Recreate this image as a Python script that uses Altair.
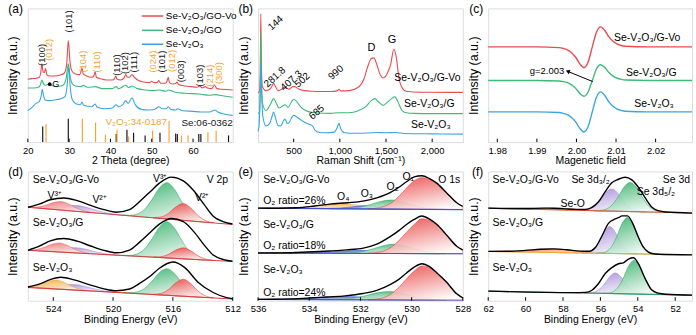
import altair as alt
import pandas as pd

FONT = "Liberation Sans"
RED = "#e94b4f"
GREEN = "#3dba7a"
BLUE = "#3aa6e0"
ORANGE = "#f4a633"
PURPLE = "#a48ad8"
DBLUE = "#4050d6"
BLACK = "#1a1a1a"

# ---------------- (a) XRD ----------------
XRD_GOVO = [(20.0, 47.0), (21.0, 47.5), (22.0, 47.8), (22.8, 48.5), (23.1, 51.5), (23.4, 58.5), (23.7, 52.5),
            (24.0, 52.0), (24.3, 55.0), (24.6, 50.5), (25.2, 49.5), (26.5, 49.5), (27.8, 50.2), (28.8, 51.5),
            (29.4, 58.0), (29.8, 76.0), (30.2, 60.0), (30.7, 53.0), (31.5, 51.0), (32.5, 50.5), (32.8, 52.0),
            (33.1, 55.5), (33.4, 51.0), (34.2, 49.5), (35.5, 48.5), (36.0, 49.5), (36.3, 52.5), (36.6, 48.5),
            (37.5, 47.5), (39.0, 46.5), (40.5, 46.5), (41.0, 47.5), (41.3, 49.5), (41.6, 47.0), (42.5, 46.5),
            (43.3, 48.0), (43.7, 50.5), (44.1, 48.5), (44.6, 48.5), (45.2, 50.5), (45.8, 48.5), (46.8, 46.0),
            (48.0, 45.0), (49.5, 44.5), (50.0, 45.5), (50.5, 44.5), (51.3, 44.5), (51.7, 46.0), (52.2, 44.0),
            (53.3, 44.0), (53.7, 45.5), (54.0, 48.5), (54.3, 44.5), (55.0, 43.5), (55.8, 43.8), (56.1, 45.0),
            (56.5, 43.0), (58.0, 42.0), (59.5, 41.5), (61.0, 41.0), (61.6, 42.0), (62.2, 40.5), (63.0, 41.5),
            (63.5, 40.5), (64.5, 40.0), (65.2, 42.5), (65.8, 40.0), (67.0, 39.5), (69.6, 39.0)]
XRD_GO = [(20.0, 40.5), (21.5, 40.5), (22.7, 41.2), (23.1, 43.5), (23.4, 46.5), (23.8, 43.5), (24.3, 42.5),
          (25.0, 43.5), (25.6, 42.5), (27.0, 41.5), (28.5, 42.5), (29.3, 48.0), (29.8, 58.5), (30.2, 50.0),
          (30.7, 44.0), (31.5, 42.0), (33.0, 41.5), (33.3, 42.5), (34.5, 41.0), (36.3, 41.5), (38.0, 40.0),
          (40.5, 40.0), (41.3, 41.5), (42.0, 40.0), (43.7, 42.5), (44.4, 40.8), (45.3, 42.0), (46.5, 40.0),
          (48.5, 39.0), (50.5, 38.5), (51.7, 39.0), (53.5, 38.0), (54.0, 39.0), (55.5, 37.5), (58.0, 36.5),
          (61.5, 36.0), (64.0, 35.0), (65.3, 35.5), (67.5, 34.5), (69.6, 33.5)]
XRD_V2O3 = [(20.0, 23.5), (21.0, 26.0), (22.0, 29.0), (22.8, 30.5), (23.2, 34.0), (23.5, 39.5), (23.8, 35.0),
            (24.2, 31.5), (25.0, 31.0), (26.5, 31.5), (28.0, 32.5), (29.0, 34.0), (29.5, 42.0), (29.9, 56.0),
            (30.3, 40.0), (30.8, 31.5), (31.8, 28.5), (32.7, 28.0), (33.1, 30.0), (33.5, 27.5), (35.5, 26.5),
            (36.3, 28.5), (36.8, 26.0), (38.5, 25.0), (40.5, 25.5), (41.3, 28.0), (42.0, 26.5), (43.0, 28.0),
            (43.7, 31.0), (44.3, 29.0), (45.2, 33.0), (46.0, 28.0), (47.5, 24.5), (49.5, 24.0), (51.0, 25.0),
            (51.7, 26.5), (52.5, 25.0), (53.5, 25.0), (54.0, 26.5), (54.6, 24.5), (55.8, 24.0), (56.2, 25.0),
            (57.5, 23.5), (60.0, 23.0), (62.0, 22.5), (64.0, 22.5), (65.3, 24.0), (66.0, 22.5), (67.5, 21.0),
            (69.6, 20.0)]
STICK_SE = [(23.6, 11.7), (29.8, 17.4), (41.4, 6.0), (44.0, 9.2), (45.6, 7.0), (48.4, 5.0), (52.0, 7.0),
            (55.8, 6.5), (56.2, 6.0), (61.4, 6.0), (61.9, 6.0), (68.6, 5.0)]
STICK_V2O3 = [(24.4, 13.6), (33.2, 17.4), (36.4, 14.6), (38.8, 5.5), (41.6, 9.2), (44.4, 4.2), (50.2, 8.7),
              (54.2, 15.6), (57.2, 5.0), (58.8, 5.0), (63.6, 7.4), (65.6, 8.7)]
A_LAB_BLACK = [("(100)", 23.4, 57.0), ("(101)", 30.0, 82.0), ("(110)", 41.6, 49.6), ("(102)", 43.6, 50.9),
               ("(111)", 45.8, 52.0), ("(101)", 52.4, 52.0), ("(003)", 57.0, 44.7), ("(103)", 61.8, 41.4)]
A_LAB_ORANGE = [("(012)", 25.2, 60.8), ("(104)", 33.4, 52.0), ("(110)", 36.8, 52.0), ("(024)", 50.2, 52.0),
                ("(012)", 54.8, 52.5), ("(214)", 64.2, 41.4), ("(300)", 66.4, 43.4)]
A_LEGEND = ["Se-V₂O₃/GO-Vo", "Se-V₂O₃/GO", "Se-V₂O₃"]
A_LEGEND_Y = [94.3, 83.6, 73.2]

# ---------------- (b) Raman ----------------
RAMAN_GVO = [(114, 37.0), (130, 38.0), (138, 50.0), (144, 96.0), (150, 60.0), (160, 42.0), (200, 38.5),
             (240, 39.5), (270, 42.5), (282, 44.0), (300, 42.0), (330, 38.5), (370, 39.5), (400, 41.0),
             (420, 40.5), (450, 39.5), (490, 41.5), (510, 41.5), (560, 39.5), (620, 38.5), (700, 38.0),
             (800, 37.8), (900, 37.8), (970, 38.3), (990, 39.5), (1010, 38.3), (1100, 38.5), (1200, 41.0),
             (1260, 47.0), (1300, 56.0), (1340, 62.5), (1370, 63.0), (1400, 58.0), (1440, 50.0), (1470, 48.0),
             (1510, 51.0), (1550, 58.0), (1585, 69.5), (1610, 64.0), (1640, 48.0), (1680, 40.0), (1720, 38.0),
             (1800, 37.5), (2000, 37.3), (2200, 37.2), (2332, 37.2)]
RAMAN_G = [(114, 21.5), (130, 22.0), (138, 40.0), (144, 82.0), (150, 55.0), (160, 30.0), (200, 23.5),
           (250, 28.5), (282, 32.5), (310, 29.5), (340, 25.5), (380, 27.0), (407, 28.0), (440, 26.0),
           (475, 30.0), (500, 32.0), (530, 30.5), (580, 26.0), (650, 23.0), (750, 21.8), (900, 21.5),
           (990, 22.0), (1100, 22.0), (1200, 23.5), (1280, 26.5), (1340, 31.0), (1380, 32.5), (1420, 30.0),
           (1470, 27.5), (1510, 29.5), (1560, 32.5), (1595, 33.8), (1630, 30.0), (1670, 24.0), (1720, 22.0),
           (1800, 21.5), (2000, 21.3), (2332, 21.3)]
RAMAN_V2O3 = [(114, 8.0), (125, 12.0), (135, 30.0), (144, 58.0), (152, 40.0), (165, 20.0), (200, 12.0),
              (240, 14.0), (265, 19.0), (282, 22.5), (300, 19.0), (330, 12.5), (360, 12.0), (390, 16.0),
              (407, 17.2), (430, 14.0), (450, 14.5), (480, 18.5), (502, 20.0), (530, 19.0), (580, 16.5),
              (630, 14.5), (680, 13.0), (700, 12.5), (730, 9.0), (780, 7.2), (850, 7.0), (940, 7.5),
              (970, 10.5), (990, 14.0), (1010, 10.0), (1050, 7.0), (1150, 6.6), (1300, 6.8), (1400, 7.2),
              (1500, 7.0), (1600, 7.2), (1700, 6.5), (2000, 6.2), (2332, 6.0)]
B_PEAK_LABELS = [("144", 304, 89.0), ("281.8", 296, 48.6), ("407.3", 475, 46.0), ("502", 593, 46.3),
                 ("990", 957, 52.0), ("685", 750, 22.3)]
B_DG_LABELS = [("D", 1343, 70.0), ("G", 1564, 76.0)]
B_SERIES = [("Se-V₂O₃/G-Vo", 2307, 47.6), ("Se-V₂O₃/G", 2243, 28.4), ("Se-V₂O₃", 2200, 13.0)]

# ---------------- (c) EPR ----------------
EPR_X = [1.9777, 1.990, 1.9956, 1.99665, 1.9977, 1.99875, 1.9998, 2.00085, 2.0019, 2.00295, 2.0040, 2.00505,
         2.0061, 2.00715, 2.0082, 2.00925, 2.0103, 2.01135, 2.0124, 2.018, 2.0292]
EPR_GVO = [71.2, 71.2, 70.7, 70.1, 69.0, 66.9, 63.45, 58.5, 55.7, 59.9, 71.2, 82.15, 86.2, 83.5, 78.7, 75.4,
           73.3, 72.25, 71.65, 71.2, 71.2]
EPR_G = [46.1, 46.1, 45.75, 45.27, 44.45, 42.8, 40.2, 36.4, 34.3, 37.5, 46.1, 54.7, 57.9, 55.8, 52.0, 49.4,
         47.75, 46.9, 46.45, 46.1, 46.1]
EPR_V2O3 = [22.6, 22.6, 22.15, 21.55, 20.5, 18.4, 15.1, 10.3, 7.6, 11.65, 22.6, 33.55, 37.6, 34.9, 30.1, 26.8,
            24.7, 23.65, 23.05, 22.6, 22.6]
C_SERIES = [("Se-V₂O₃/G-Vo", 2.0095, 77.9), ("Se-V₂O₃/G", 2.0125, 51.7), ("Se-V₂O₃", 2.0146, 28.8)]
C_ARROW = [(2.0041, 45.3, 1.9978, 52.9)]

# ---------------- (d) V 2p ----------------
D_BG1 = [(525.7, 72.3), (512.0, 59.0)]
D_BG2 = [(525.7, 39.0), (512.0, 30.3)]
D_BG3 = [(525.7, 10.3), (512.0, 1.3)]
D1_A = [(525.5, 0.2), (525.0, 0.95), (524.5, 2.76), (524.0, 5.25), (523.5, 6.5), (523.0, 5.25), (522.5, 2.76),
        (522.0, 0.95), (521.5, 0.2)]
D1_B = [(524.9, 0.22), (524.4, 0.66), (523.9, 1.52), (523.4, 2.78), (522.9, 3.99), (522.4, 4.5), (521.9, 3.99),
        (521.4, 2.78), (520.9, 1.52), (520.4, 0.66), (519.9, 0.22), (519.4, 0.06)]
D1_C = [(519.4, 0.06), (518.9, 0.36), (518.4, 1.75), (517.9, 5.88), (517.4, 14.0), (516.9, 23.5), (516.4, 28.0),
        (515.9, 23.5), (515.4, 14.0), (514.9, 5.88), (514.4, 1.75), (513.9, 0.36)]
D1_D = [(517.3, 0.17), (516.8, 1.13), (516.3, 4.39), (515.8, 9.92), (515.3, 13.0), (514.8, 9.92), (514.3, 4.39),
        (513.8, 1.13), (513.3, 0.17)]
D1_ENV = [(525.7, 0.0), (524.9, 3.4), (524.2, 7.3), (523.3, 9.5), (522.4, 8.3), (521.5, 5.5), (520.6, 3.1),
          (519.8, 1.9), (518.9, 4.8), (518.2, 11.9), (517.5, 20.2), (516.9, 27.2), (516.1, 32.6), (515.3, 30.5),
          (514.6, 23.5), (513.9, 13.5), (513.3, 5.1), (512.6, 1.4), (512.0, 0.3)]
D2_A = [(525.6, 0.23), (525.1, 1.02), (524.6, 2.98), (524.1, 5.65), (523.6, 7.0), (523.1, 5.65), (522.6, 2.98),
        (522.1, 1.02), (521.6, 0.23)]
D2_B = [(525.0, 0.2), (524.5, 0.58), (524.0, 1.35), (523.5, 2.47), (523.0, 3.55), (522.5, 4.0), (522.0, 3.55),
        (521.5, 2.47), (521.0, 1.35), (520.5, 0.58), (520.0, 0.2), (519.5, 0.05)]
D2_C = [(519.4, 0.06), (518.9, 0.36), (518.4, 1.75), (517.9, 5.88), (517.4, 14.0), (516.9, 23.5), (516.4, 28.0),
        (515.9, 23.5), (515.4, 14.0), (514.9, 5.88), (514.4, 1.75), (513.9, 0.36)]
D2_D = [(517.3, 0.11), (516.8, 0.74), (516.3, 2.87), (515.8, 6.49), (515.3, 8.5), (514.8, 6.49), (514.3, 2.87),
        (513.8, 0.74), (513.3, 0.11)]
D2_ENV = [(525.7, 0.0), (524.9, 3.9), (524.2, 8.3), (523.3, 10.7), (522.4, 9.2), (521.5, 6.0), (520.6, 3.2),
          (519.8, 1.8), (518.9, 4.5), (518.2, 11.3), (517.5, 19.2), (516.9, 25.8), (516.1, 30.7), (515.3, 28.8),
          (514.6, 21.5), (513.9, 11.5), (513.3, 4.2), (512.6, 1.1), (512.0, 0.2)]
D3_A = [(525.7, 0.31), (525.3, 1.0), (524.8, 2.93), (524.3, 5.57), (523.8, 6.9), (523.3, 5.57), (522.8, 2.93),
        (522.3, 1.0), (521.8, 0.23)]
D3_B = [(525.1, 0.21), (524.6, 0.61), (524.1, 1.42), (523.6, 2.6), (523.1, 3.73), (522.6, 4.2), (522.1, 3.73),
        (521.6, 2.6), (521.1, 1.42), (520.6, 0.61), (520.1, 0.21), (519.6, 0.05)]
D3_C = [(519.4, 0.04), (518.9, 0.27), (518.4, 1.28), (517.9, 4.3), (517.4, 10.25), (516.9, 17.2), (516.4, 20.5),
        (515.9, 17.2), (515.4, 10.25), (514.9, 4.3), (514.4, 1.28), (513.9, 0.27)]
D3_D = [(517.3, 0.17), (516.8, 1.15), (516.3, 4.46), (515.8, 10.07), (515.3, 13.2), (514.8, 10.07), (514.3, 4.46),
        (513.8, 1.15), (513.3, 0.17)]
D3_ENV = [(525.7, 0.3), (524.9, 3.3), (524.2, 7.0), (523.5, 9.3), (522.6, 7.8), (521.6, 4.8), (520.6, 2.2),
          (519.8, 1.3), (518.9, 3.2), (518.2, 8.2), (517.5, 14.2), (516.9, 20.6), (516.0, 26.0), (515.2, 22.2),
          (514.3, 11.3), (513.3, 4.2), (512.4, 0.8), (512.0, 0.2)]
D_TEXT = [("Se-V₂O₃/G-Vo", 525.37, 93.6, "left"), ("V 2p", 512.3, 93.6, "right"),
          ("Se-V₂O₃/G", 525.37, 60.3, "left"), ("Se-V₂O₃", 525.37, 25.6, "left"),
          ("V³⁺", 523.9, 81.3, "center"), ("V²⁺", 520.9, 78.2, "center"),
          ("V³⁺", 516.85, 94.4, "center"), ("V²⁺", 514.04, 79.5, "center")]

# ---------------- (e) O 1s ----------------
E_BG1 = [(536.0, 71.6), (528.0, 70.5)]
E_BG2 = [(536.0, 36.9), (528.0, 36.3)]
E_BG3 = [(536.0, 1.0), (528.0, 0.3)]
E1_O1 = [(531.7, 0.1), (531.4, 0.55), (531.1, 1.9), (530.8, 4.7), (530.5, 9.9), (530.2, 16.3), (529.9, 22.0),
         (529.6, 24.5), (529.3, 23.3), (529.02, 20.2), (528.63, 12.8), (528.24, 5.3), (528.0, 2.4)]
E1_O2 = [(533.2, 0.01), (532.8, 0.09), (532.4, 0.44), (532.0, 1.47), (531.6, 3.5), (531.2, 5.89), (530.8, 7.0),
         (530.4, 5.89), (530.0, 3.5), (529.6, 1.47), (529.2, 0.44), (528.8, 0.09)]
E1_O3 = [(533.58, 0.03), (533.2, 0.15), (532.83, 0.5), (532.45, 1.2), (532.08, 2.02), (531.7, 2.4), (531.33, 2.02),
         (530.95, 1.2), (530.58, 0.5), (530.2, 0.15), (529.83, 0.03)]
E1_O4 = [(535.8, 0.01), (535.3, 0.05), (534.8, 0.24), (534.3, 0.8), (533.8, 1.9), (533.3, 3.2), (532.8, 3.8),
         (532.3, 3.2), (531.8, 1.9), (531.3, 0.8), (530.8, 0.24), (530.3, 0.05)]
E1_ENV = [(536.0, 0.0), (535.2, 0.06), (534.5, 0.5), (533.8, 1.95), (533.2, 3.55), (532.5, 4.7), (531.9, 6.0),
          (531.36, 8.6), (530.84, 12.7), (530.5, 16.9), (530.2, 21.2), (529.9, 25.0), (529.6, 26.0), (529.3, 23.8),
          (529.02, 20.3), (528.63, 12.8), (528.24, 5.3), (528.0, 2.4)]
E2_O1 = [(531.7, 0.1), (531.4, 0.6), (531.1, 1.9), (530.8, 4.8), (530.5, 10.0), (530.2, 16.5), (529.9, 22.5),
         (529.6, 27.0), (529.3, 25.8), (529.02, 22.3), (528.63, 14.3), (528.24, 5.8), (528.0, 2.9)]
E2_O2 = [(533.1, 0.01), (532.7, 0.09), (532.3, 0.45), (531.9, 1.51), (531.5, 3.6), (531.1, 6.06), (530.7, 7.2),
         (530.3, 6.06), (529.9, 3.6), (529.5, 1.51), (529.1, 0.45), (528.7, 0.09)]
E2_O3 = [(535.5, 0.0), (534.9, 0.03), (534.3, 0.14), (533.7, 0.46), (533.1, 1.1), (532.5, 1.85), (531.9, 2.2),
         (531.3, 1.85), (530.7, 1.1), (530.1, 0.46), (529.5, 0.14), (528.9, 0.03)]
E2_O4 = [(535.7, 0.05), (535.1, 0.17), (534.5, 0.4), (533.9, 0.67), (533.3, 0.8), (532.7, 0.67), (532.1, 0.4),
         (531.5, 0.17), (530.9, 0.05)]
E2_ENV = [(536.0, 0.02), (535.1, 0.2), (534.5, 0.55), (533.84, 1.1), (533.19, 1.8), (532.54, 2.7), (531.89, 4.1),
          (531.36, 7.2), (530.84, 13.0), (530.5, 17.7), (530.2, 22.5), (529.9, 26.4), (529.6, 29.1), (529.3, 26.7),
          (529.02, 22.7), (528.63, 14.4), (528.24, 5.8), (528.0, 2.9)]
E3_O1 = [(531.7, 0.1), (531.4, 0.6), (531.1, 1.8), (530.8, 4.7), (530.5, 9.8), (530.2, 16.4), (529.9, 22.5),
         (529.6, 26.5), (529.3, 25.3), (529.02, 21.0), (528.63, 13.8), (528.24, 5.0), (528.0, 1.8)]
E3_O2 = [(533.6, 0.01), (533.15, 0.08), (532.7, 0.41), (532.25, 1.37), (531.8, 3.25), (531.35, 5.47), (530.9, 6.5),
         (530.45, 5.47), (530.0, 3.25), (529.55, 1.37), (529.1, 0.41), (528.65, 0.08)]
E3_O3 = [(535.4, 0.16), (534.7, 0.52), (534.0, 1.25), (533.3, 2.1), (532.6, 2.5), (531.9, 2.1), (531.2, 1.25),
         (530.5, 0.52), (529.8, 0.16), (529.1, 0.04)]
E3_ENV = [(536.0, 0.04), (535.4, 0.16), (534.7, 0.52), (534.0, 1.25), (533.3, 2.15), (532.6, 3.05), (531.9, 4.9),
          (531.36, 7.45), (530.84, 11.9), (530.5, 16.0), (530.2, 21.0), (529.9, 25.5), (529.6, 28.1), (529.3, 25.9),
          (529.02, 21.3), (528.63, 13.9), (528.24, 5.0), (528.0, 1.8)]
E_TEXT = [("Se-V₂O₃/G-Vo", 535.8, 93.0, "left"), ("O₂ ratio=26%", 535.8, 77.3, "left"),
          ("Se-V₂O₃/G", 535.8, 58.7, "left"), ("O₂ ratio=18%", 535.8, 42.6, "left"),
          ("Se-V₂O₃", 535.8, 24.0, "left"), ("O₂ ratio=24%", 535.8, 5.9, "left"),
          ("O₄", 532.67, 80.0, "center"), ("O₃", 531.75, 82.7, "center"), ("O₂", 530.74, 87.9, "center"),
          ("O₁", 530.13, 95.6, "center"), ("O 1s", 528.1, 93.0, "right")]

# ---------------- (f) Se 3d ----------------
F_BG1 = [(62.0, 71.6), (51.1, 67.8)]
F_BG2 = [(62.0, 38.1), (51.1, 35.5)]
F_BG3 = [(62.0, 7.4), (51.1, 4.3)]
F1_P = [(57.2, 0.03), (56.9, 0.22), (56.6, 1.08), (56.3, 3.61), (56.0, 8.6), (55.7, 14.47), (55.4, 17.2),
        (55.1, 14.47), (54.8, 8.6), (54.5, 3.61), (54.2, 1.08), (53.9, 0.22), (53.6, 0.03)]
F1_G = [(56.35, 0.04), (56.03, 0.29), (55.7, 1.41), (55.38, 4.73), (55.05, 11.25), (54.73, 18.92), (54.4, 22.5),
        (54.08, 18.92), (53.75, 11.25), (53.43, 4.73), (53.1, 1.41), (52.78, 0.29), (52.45, 0.04)]
F1_O = [(61.1, 0.08), (60.45, 0.25), (59.8, 0.6), (59.15, 1.0), (58.5, 1.2), (57.85, 1.0), (57.2, 0.6),
        (56.55, 0.25), (55.9, 0.08)]
F1_ENV = [(62.0, 0.0), (61.0, 0.1), (60.0, 0.4), (59.0, 1.05), (58.5, 1.2), (58.0, 1.05), (57.3, 0.7), (56.8, 0.8),
          (56.45, 2.5), (56.1, 7.0), (55.74, 15.0), (55.39, 22.0), (55.03, 24.8), (54.68, 26.5), (54.32, 24.6),
          (53.97, 19.0), (53.61, 11.0), (53.26, 4.0), (52.9, 1.2), (52.5, 0.3), (51.1, 0.0)]
F2_P = [(57.0, 0.04), (56.75, 0.27), (56.5, 1.3), (56.25, 4.37), (56.0, 10.4), (55.75, 17.49), (55.5, 20.8),
        (55.25, 17.49), (55.0, 10.4), (54.75, 4.37), (54.5, 1.3), (54.25, 0.27), (54.0, 0.04)]
F2_G = [(56.2, 0.06), (55.93, 0.36), (55.65, 1.75), (55.38, 5.88), (55.1, 14.0), (54.83, 23.55), (54.55, 28.0),
        (54.28, 23.55), (54.0, 14.0), (53.73, 5.88), (53.45, 1.75), (53.18, 0.36), (52.9, 0.06)]
F2_O = [(62.0, 0.04), (61.3, 0.18), (60.6, 0.59), (59.9, 1.4), (59.2, 2.35), (58.5, 2.8), (57.8, 2.35),
        (57.1, 1.4), (56.4, 0.59), (55.7, 0.18), (55.0, 0.04)]
F2_ENV = [(62.0, 0.04), (61.0, 0.35), (60.0, 1.3), (59.2, 2.35), (58.5, 2.8), (57.8, 2.35), (57.1, 1.4),
          (56.6, 1.5), (56.27, 4.4), (55.92, 13.4), (55.57, 23.3), (55.21, 26.8), (55.0, 28.0), (54.85, 29.2),
          (54.55, 29.3), (54.28, 23.8), (54.0, 14.0), (53.73, 5.9), (53.45, 1.75), (53.18, 0.36), (52.9, 0.06),
          (51.1, 0.0)]
F3_P = [(56.85, 0.03), (56.58, 0.21), (56.3, 1.0), (56.03, 3.36), (55.75, 8.0), (55.48, 13.46), (55.2, 16.0),
        (54.93, 13.46), (54.65, 8.0), (54.38, 3.36), (54.1, 1.0), (53.83, 0.21), (53.55, 0.03)]
F3_G = [(55.85, 0.05), (55.58, 0.34), (55.3, 1.63), (55.03, 5.46), (54.75, 13.0), (54.48, 21.87), (54.2, 26.0),
        (53.93, 21.87), (53.65, 13.0), (53.38, 5.46), (53.1, 1.63), (52.83, 0.34), (52.55, 0.05)]
F3_ENV = [(62.0, 0.0), (57.5, 0.1), (56.8, 0.5), (56.45, 2.3), (56.1, 7.6), (55.74, 15.4), (55.39, 20.1),
          (55.03, 23.2), (54.77, 24.0), (54.5, 26.9), (54.23, 28.0), (53.97, 23.5), (53.61, 12.3), (53.26, 3.5),
          (52.9, 1.0), (52.5, 0.3), (51.1, 0.0)]
F_TEXT = [("Se-V₂O₃/G-Vo", 61.77, 93.1, "left"), ("Se 3d₃/₂", 57.55, 93.1, "left"), ("Se 3d", 51.2, 93.1, "right"),
          ("Se  3d₅/₂", 54.06, 84.3, "left"), ("Se-O", 58.13, 74.6, "left"),
          ("Se-V₂O₃/G", 61.77, 60.2, "left"), ("Se-V₂O₃", 61.77, 25.4, "left")]

# ================= helpers =================
LABEL_FS = 9.5
TITLE_FS = 10.5
ANN_FS = 10


def pts(pairs, cols=("x", "y"), **kw):
    d = pd.DataFrame(pairs, columns=list(cols))
    for k, v in kw.items():
        d[k] = v
    return d


def make_xy(xdom, xvals, xtitle, reverse=False, fmt=None):
    xscale = alt.Scale(domain=xdom, reverse=reverse, nice=False, zero=False)
    kw = dict(values=xvals, title=xtitle, ticks=False, domain=False, grid=False, labelFlush=False,
              labelOverlap=False, labelFontSize=LABEL_FS, titleFontSize=TITLE_FS, labelPadding=3,
              titlePadding=1, labelColor="black", titleColor="black", titleFontWeight="normal")
    if fmt:
        kw["format"] = fmt
    xaxis = alt.Axis(**kw)
    yscale = alt.Scale(domain=[0, 100], nice=False, zero=False)
    yaxis = alt.Axis(title="Intensity (a.u.)", labels=False, ticks=False, domain=False, grid=False,
                     titleFontSize=12.5, titlePadding=8, titleFontWeight="normal", titleColor="black")

    def X(f):
        return alt.X(f, type="quantitative", scale=xscale, axis=xaxis)

    def Y(f):
        return alt.Y(f, type="quantitative", scale=yscale, axis=yaxis)

    return X, Y


def ticks_layer(X, xvals, h):
    return alt.Chart(pd.DataFrame({"v": xvals})).mark_rule(color="black", strokeWidth=1).encode(
        x=X("v"), y=alt.value(h), y2=alt.value(h - 3.5))


def panel_label(t):
    return alt.Chart(pd.DataFrame({"t": [t]})).mark_text(
        align="right", baseline="middle", fontSize=12, font=FONT, color="black").encode(
        text="t:N", x=alt.value(-5), y=alt.value(1))


def text_layer(X, Y, rows, size=ANN_FS, color="black", **mk):
    df = pd.DataFrame(rows, columns=["t", "x", "y", "a"])
    layers = []
    for a in ["left", "center", "right"]:
        sub = df[df["a"] == a]
        if len(sub):
            layers.append(alt.Chart(sub).mark_text(align=a, baseline="middle", fontSize=size, font=FONT,
                                                   color=color, **mk).encode(x=X("x"), y=Y("y"), text="t:N"))
    return layers


def bg_at(bg, x):
    (x0, y0), (x1, y1) = bg
    return y0 + (y1 - y0) * (x - x0) / (x1 - x0)


def comp_df(pairs, bg, s):
    d = pd.DataFrame(pairs, columns=["x", "h"])
    d["bot"] = [bg_at(bg, v) for v in d["x"]]
    d["top"] = d["bot"] + d["h"]
    d["s"] = s
    return d


def grad(c):
    return alt.Gradient(gradient="linear", stops=[alt.GradientStop(color=c, offset=0),
                                                  alt.GradientStop(color="#ffffff", offset=1)],
                        x1=0.2, x2=0.8, y1=0, y2=1)


def area_layer(X, Y, dfs, color):
    df = pd.concat(dfs, ignore_index=True)
    return alt.Chart(df).mark_area(interpolate="monotone", fill=grad(color), fillOpacity=0.9, stroke=color,
                                   strokeWidth=0.6, clip=True).encode(
        x=X("x"), y=Y("top"), y2=alt.Y2("bot"), detail="s:N")


def env_layer(X, Y, envs_bgs):
    dfs = []
    for i, (env, bg) in enumerate(envs_bgs):
        d = pd.DataFrame(env, columns=["x", "h"])
        d["y"] = [bg_at(bg, v) + hh for v, hh in zip(d["x"], d["h"])]
        d["s"] = "s%d" % i
        dfs.append(d)
    df = pd.concat(dfs, ignore_index=True)
    return alt.Chart(df).mark_line(interpolate="monotone", color="black", strokeWidth=1.4, clip=True).encode(
        x=X("x"), y=Y("y"), detail="s:N")


def bg_layer(X, Y, bgs, colors):
    dfs = []
    for i, bg in enumerate(bgs):
        d = pd.DataFrame(bg, columns=["x", "y"])
        d["s"] = "s%d" % i
        d["c"] = colors[i]
        dfs.append(d)
    df = pd.concat(dfs, ignore_index=True)
    return alt.Chart(df).mark_line(strokeWidth=1.1, clip=True).encode(
        x=X("x"), y=Y("y"), detail="s:N", color=alt.Color("c:N", scale=None))


# ================= (a) =================
WA, HA = 206, 134.5
Xa, Ya = make_xy([20, 69.6], [20, 30, 40, 50, 60], "2 Theta (degree)")
xrd = pd.concat([pts(XRD_GOVO, s="a"), pts(XRD_GO, s="b"), pts(XRD_V2O3, s="c")], ignore_index=True)
a_lines = alt.Chart(xrd).mark_line(strokeWidth=1.1, interpolate="monotone").encode(
    x=Xa("x"), y=Ya("y"), color=alt.Color("s:N", scale=alt.Scale(domain=["a", "b", "c"], range=[RED, GREEN, BLUE]),
                                           legend=None))
sticks = pd.concat([pts(STICK_SE, s="se", c=BLACK), pts(STICK_V2O3, s="v", c=ORANGE)], ignore_index=True)
sticks["y0"] = 0
a_sticks = alt.Chart(sticks).mark_rule(strokeWidth=1.2).encode(
    x=Xa("x"), y=Ya("y0"), y2=alt.Y2("y"), color=alt.Color("c:N", scale=None))
labs = pd.concat([pd.DataFrame(A_LAB_BLACK, columns=["t", "x", "y"]).assign(c=BLACK),
                  pd.DataFrame(A_LAB_ORANGE, columns=["t", "x", "y"]).assign(c=ORANGE)], ignore_index=True)
a_labs = alt.Chart(labs).mark_text(angle=270, align="left", baseline="middle", fontSize=9.5, font=FONT).encode(
    x=Xa("x"), y=Ya("y"), text="t:N", color=alt.Color("c:N", scale=None))
leg = pd.DataFrame({"t": A_LEGEND, "y": A_LEGEND_Y, "c": [RED, GREEN, BLUE]})
leg["x0"] = 47.6
leg["x1"] = 52.8
leg["xt"] = 53.4
a_leg_lines = alt.Chart(leg).mark_rule(strokeWidth=1.5).encode(
    x=Xa("x0"), x2=alt.X2("x1"), y=Ya("y"), color=alt.Color("c:N", scale=None))
a_leg_text = alt.Chart(leg).mark_text(align="left", baseline="middle", fontSize=10, font=FONT, color="black").encode(
    x=Xa("xt"), y=Ya("y"), text="t:N")
ref_txt = pd.DataFrame({"t": ["V₂O₃:34-0187", "Se:06-0362"], "x": [38.8, 57.2], "y": [14.9, 14.1],
                        "c": [ORANGE, BLACK]})
a_ref = alt.Chart(ref_txt).mark_text(align="left", baseline="middle", fontSize=10, font=FONT).encode(
    x=Xa("x"), y=Ya("y"), text="t:N", color=alt.Color("c:N", scale=None))
g_pt = alt.Chart(pd.DataFrame({"x": [25.3], "y": [43.3]})).mark_point(filled=True, color="black", size=14,
                                                                       opacity=1).encode(x=Xa("x"), y=Ya("y"))
g_txt = alt.Chart(pd.DataFrame({"x": [25.9], "y": [43.6], "t": ["G"]})).mark_text(
    align="left", baseline="middle", fontSize=9, font=FONT, color="black").encode(x=Xa("x"), y=Ya("y"), text="t:N")
panel_a = alt.layer(a_sticks, a_lines, a_labs, a_leg_lines, a_leg_text, a_ref, g_pt, g_txt,
                    ticks_layer(Xa, [20, 30, 40, 50, 60], HA), panel_label("(a)")).properties(width=WA, height=HA)

# ================= (b) =================
WB, HB = 206, 134.5
Xb, Yb = make_xy([114, 2332], [500, 1000, 1500, 2000], "Raman Shift (cm⁻¹)")
ram = pd.concat([pts(RAMAN_GVO, s="a"), pts(RAMAN_G, s="b"), pts(RAMAN_V2O3, s="c")], ignore_index=True)
b_lines = alt.Chart(ram).mark_line(strokeWidth=1.1, interpolate="monotone").encode(
    x=Xb("x"), y=Yb("y"), color=alt.Color("s:N", scale=alt.Scale(domain=["c", "b", "a"], range=[BLUE, GREEN, RED]),
                                           legend=None), order=alt.Order("x:Q"))
b_peak = alt.Chart(pd.DataFrame(B_PEAK_LABELS, columns=["t", "x", "y"])).mark_text(
    angle=318, align="center", baseline="middle", fontSize=10, font=FONT, color="black").encode(
    x=Xb("x"), y=Yb("y"), text="t:N")
b_dg = alt.Chart(pd.DataFrame(B_DG_LABELS, columns=["t", "x", "y"])).mark_text(
    align="center", baseline="middle", fontSize=11, font=FONT, color="black").encode(
    x=Xb("x"), y=Yb("y"), text="t:N")
b_ser = alt.Chart(pd.DataFrame(B_SERIES, columns=["t", "x", "y"])).mark_text(
    align="right", baseline="middle", fontSize=10.5, font=FONT, color="black").encode(
    x=Xb("x"), y=Yb("y"), text="t:N")
panel_b = alt.layer(b_lines, b_peak, b_dg, b_ser, ticks_layer(Xb, [500, 1000, 1500, 2000], HB),
                    panel_label("(b)")).properties(width=WB, height=HB)

# ================= (c) =================
WC, HC = 205, 134.5
Xc, Yc = make_xy([1.9777, 2.0292], [1.98, 1.99, 2.00, 2.01, 2.02], "Magenetic field", fmt=".2f")
epr = pd.concat([pd.DataFrame({"x": EPR_X, "y": EPR_GVO, "s": "a"}),
                 pd.DataFrame({"x": EPR_X, "y": EPR_G, "s": "b"}),
                 pd.DataFrame({"x": EPR_X, "y": EPR_V2O3, "s": "c"})], ignore_index=True)
c_lines = alt.Chart(epr).mark_line(strokeWidth=1.4, interpolate="monotone").encode(
    x=Xc("x"), y=Yc("y"), color=alt.Color("s:N", scale=alt.Scale(domain=["a", "b", "c"], range=[RED, GREEN, BLUE]),
                                           legend=None))
c_ser = alt.Chart(pd.DataFrame(C_SERIES, columns=["t", "x", "y"])).mark_text(
    align="left", baseline="middle", fontSize=10.5, font=FONT, color="black").encode(
    x=Xc("x"), y=Yc("y"), text="t:N")
arr = pd.DataFrame(C_ARROW, columns=["x0", "y0", "x1", "y1"])
c_arrow = alt.Chart(arr).mark_rule(color="black", strokeWidth=1).encode(
    x=Xc("x0"), y=Yc("y0"), x2=alt.X2("x1"), y2=alt.Y2("y1"))
c_head = alt.Chart(arr).mark_point(shape="triangle-up", filled=True, color="black", size=22, angle=292,
                                   opacity=1).encode(x=Xc("x1"), y=Yc("y1"))
c_g = alt.Chart(pd.DataFrame({"t": ["g=2.003"], "x": [1.9882], "y": [53.4]})).mark_text(
    align="left", baseline="middle", fontSize=9.5, font=FONT, color="black").encode(x=Xc("x"), y=Yc("y"), text="t:N")
panel_c = alt.layer(c_lines, c_arrow, c_head, c_g, c_ser, ticks_layer(Xc, [1.98, 1.99, 2.00, 2.01, 2.02], HC),
                    panel_label("(c)")).properties(width=WC, height=HC)

# ================= (d) =================
WD, HD = 206, 130
Xd, Yd = make_xy([512, 525.7], [524, 520, 516, 512], "Binding Energy (eV)", reverse=True)
d_layers = [
    area_layer(Xd, Yd, [comp_df(D1_B, D_BG1, "1"), comp_df(D2_B, D_BG2, "2"), comp_df(D3_B, D_BG3, "3")], PURPLE),
    area_layer(Xd, Yd, [comp_df(D1_A, D_BG1, "1"), comp_df(D2_A, D_BG2, "2")], "#ee6a6a"),
    area_layer(Xd, Yd, [comp_df(D3_A, D_BG3, "3")], ORANGE),
    area_layer(Xd, Yd, [comp_df(D1_C, D_BG1, "1"), comp_df(D2_C, D_BG2, "2"), comp_df(D3_C, D_BG3, "3")], "#2fae66"),
    area_layer(Xd, Yd, [comp_df(D1_D, D_BG1, "1"), comp_df(D2_D, D_BG2, "2"), comp_df(D3_D, D_BG3, "3")], "#e8403e"),
    bg_layer(Xd, Yd, [D_BG1, D_BG2, D_BG3], ["#d94040", "#d94040", "#d94040"]),
    env_layer(Xd, Yd, [(D1_ENV, D_BG1), (D2_ENV, D_BG2), (D3_ENV, D_BG3)]),
] + text_layer(Xd, Yd, D_TEXT, size=10.5) + [ticks_layer(Xd, [524, 520, 516, 512], HD), panel_label("(d)")]
panel_d = alt.layer(*d_layers).properties(width=WD, height=HD)

# ================= (e) =================
WE, HE = 206, 130
Xe, Ye = make_xy([528, 536], [536, 534, 532, 530, 528], "Binding Energy (eV)", reverse=True)
e_layers = [
    area_layer(Xe, Ye, [comp_df(E1_O4, E_BG1, "1"), comp_df(E2_O4, E_BG2, "2")], ORANGE),
    area_layer(Xe, Ye, [comp_df(E1_O3, E_BG1, "1"), comp_df(E2_O3, E_BG2, "2"), comp_df(E3_O3, E_BG3, "3")], DBLUE),
    area_layer(Xe, Ye, [comp_df(E1_O2, E_BG1, "1"), comp_df(E2_O2, E_BG2, "2"), comp_df(E3_O2, E_BG3, "3")], "#2fae66"),
    area_layer(Xe, Ye, [comp_df(E1_O1, E_BG1, "1"), comp_df(E2_O1, E_BG2, "2"), comp_df(E3_O1, E_BG3, "3")], "#e8403e"),
    bg_layer(Xe, Ye, [E_BG1, E_BG2, E_BG3], [DBLUE, DBLUE, DBLUE]),
    env_layer(Xe, Ye, [(E1_ENV, E_BG1), (E2_ENV, E_BG2), (E3_ENV, E_BG3)]),
] + text_layer(Xe, Ye, E_TEXT, size=10.5) + [ticks_layer(Xe, [536, 534, 532, 530, 528], HE), panel_label("(e)")]
panel_e = alt.layer(*e_layers).properties(width=WE, height=HE)

# ================= (f) =================
WF, HF = 205, 130
Xf, Yf = make_xy([51.1, 62], [62, 60, 58, 56, 54, 52], "Binding Energy (eV)", reverse=True)
f_layers = [
    area_layer(Xf, Yf, [comp_df(F1_O, F_BG1, "1"), comp_df(F2_O, F_BG2, "2")], "#ee7a3a"),
    area_layer(Xf, Yf, [comp_df(F1_P, F_BG1, "1"), comp_df(F2_P, F_BG2, "2"), comp_df(F3_P, F_BG3, "3")], PURPLE),
    area_layer(Xf, Yf, [comp_df(F1_G, F_BG1, "1"), comp_df(F2_G, F_BG2, "2"), comp_df(F3_G, F_BG3, "3")], "#2fae66"),
    bg_layer(Xf, Yf, [F_BG1, F_BG2, F_BG3], ["#e0603a", ORANGE, "#2e9e6a"]),
    env_layer(Xf, Yf, [(F1_ENV, F_BG1), (F2_ENV, F_BG2), (F3_ENV, F_BG3)]),
] + text_layer(Xf, Yf, F_TEXT, size=10.5) + [ticks_layer(Xf, [62, 60, 58, 56, 54, 52], HF), panel_label("(f)")]
panel_f = alt.layer(*f_layers).properties(width=WF, height=HF)

chart = alt.concat(panel_a, panel_b, panel_c, panel_d, panel_e, panel_f, columns=3, bounds="flush",
                   spacing={"row": 29, "column": 25.5}).properties(
    padding={"left": 6, "top": 1.5, "right": 0, "bottom": 0}
).configure_view(stroke="black", strokeWidth=1).configure_axis(
    labelFont=FONT, titleFont=FONT).configure_text(font=FONT).configure(background="white")

chart.save("out.html", embed_options={"renderer": "svg", "actions": False})
